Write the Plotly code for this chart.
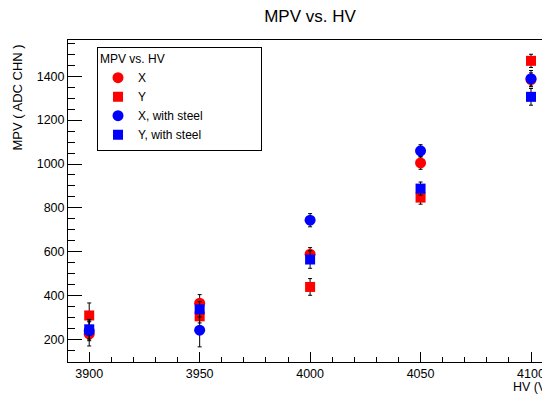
import plotly.graph_objects as go

HV = [3900, 3950, 4000, 4050, 4100]

X_mpv = [226, 366, 589, 1005, 1385]
X_err = [55, 39, 30, 29, 30]

Y_mpv = [310, 306, 440, 847, 1470]
Y_err = [57, 30, 38, 30, 30]

Xs_mpv = [240, 243, 744, 1060, 1389]
Xs_err = [45, 76, 30, 28, 37]

Ys_mpv = [247, 338, 565, 888, 1306]
Ys_err = [45, 35, 40, 30, 38]

FONT = "Liberation Sans, Arial, Helvetica, sans-serif"

series = [
    ("X", X_mpv, X_err, "red", "circle", 11),
    ("Y", Y_mpv, Y_err, "red", "square", 10),
    ("X, with steel", Xs_mpv, Xs_err, "blue", "circle", 11),
    ("Y, with steel", Ys_mpv, Ys_err, "blue", "square", 10),
]

# page offset of the figure (browser body margin)
OFF = 8
W, H = 550 - OFF, 396 - OFF
PL, PT, PB, PR = 68.3, 39.7, 361.7, 550.0   # plot frame in page pixels
PW, PH = PR - PL, PB - PT

fig = go.Figure()
for name, vals, errs, col, sym, sz in series:
    fig.add_trace(go.Scatter(
        x=HV, y=vals, name=name, mode="markers",
        marker=dict(color=col, symbol=sym, size=sz, line=dict(width=0)),
        error_y=dict(type="data", array=errs, color="black", thickness=1, width=2),
    ))

fig.update_layout(
    width=W, height=H,
    margin=dict(l=PL - OFF, r=0, t=PT - OFF, b=396 - PB),
    paper_bgcolor="white", plot_bgcolor="white",
    font=dict(family=FONT, color="black", size=12.5),
    title=dict(text="MPV vs. HV", x=(310 - OFF) / W, xanchor="center", xref="container",
               y=1 - (16.5 - OFF) / H, yanchor="middle", yref="container",
               font=dict(size=17, family=FONT, color="black")),
    showlegend=True,
    legend=dict(
        title=dict(text="MPV vs. HV" + "\u00a0" * 28, font=dict(size=12, family=FONT)),
        x=(97.3 - PL) / PW, y=(PB - 46.3) / PH, xanchor="left", yanchor="top",
        bordercolor="black", borderwidth=1, bgcolor="white",
        font=dict(size=12, family=FONT),
        tracegroupgap=0,
    ),
    xaxis=dict(
        range=[3890.4, 4108.6], showgrid=False, zeroline=False,
        showline=True, linecolor="black", linewidth=1, mirror=True,
        ticks="inside", ticklen=10, tickcolor="black",
        tickmode="linear", tick0=3900, dtick=50,
        minor=dict(ticks="inside", ticklen=5, tickcolor="black", dtick=10, tick0=3900, showgrid=False),
        tickfont=dict(size=12.5, family=FONT),
    ),
    yaxis=dict(
        range=[98, 1565], showgrid=False, zeroline=False,
        showline=True, linecolor="black", linewidth=1, mirror=False,
        ticks="inside", ticklen=14, tickcolor="black",
        tickmode="linear", tick0=0, dtick=200,
        minor=dict(ticks="inside", ticklen=7, tickcolor="black", dtick=50, tick0=0, showgrid=False),
        tickfont=dict(size=12.5, family=FONT),
    ),
    annotations=[
        dict(text="MPV ( ADC CHN )", xref="paper", yref="paper",
             x=(17.5 - PL) / PW, y=(PB - 42) / PH, xanchor="center", yanchor="top",
             textangle=-90, showarrow=False, font=dict(size=13, family=FONT)),
        dict(text="HV (V)", xref="paper", yref="paper",
             x=(553 - PL) / PW, y=(PB - 387) / PH, xanchor="right", yanchor="middle",
             showarrow=False, font=dict(size=12.5, family=FONT)),
    ],
)

fig.write_html("out.html")
